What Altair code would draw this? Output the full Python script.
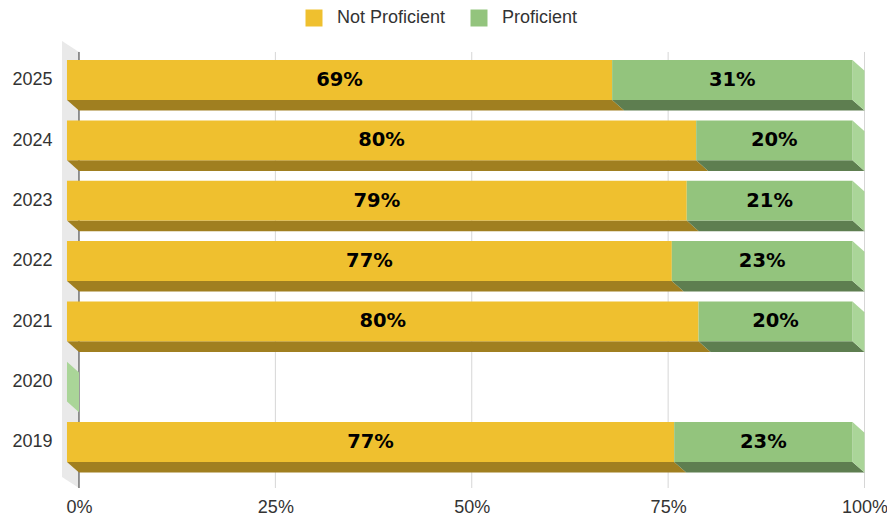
import altair as alt
import pandas as pd

# ---- data ----
years = ["2025", "2024", "2023", "2022", "2021", "2020", "2019"]
not_proficient = [69.4, 80.1, 78.9, 77.0, 80.4, 0.0, 77.3]
proficient = [30.6, 19.9, 21.1, 23.0, 19.6, 0.0, 22.7]
series = ["Not Proficient", "Proficient"]
x_ticks = [0, 25, 50, 75, 100]

# ---- styling ----
FRONT = ["#EFC02F", "#93C47D"]
BOTTOM = ["#A07F20", "#5E7E50"]
SIDE = "#AAD598"
WALL = "#E9E9E9"
FONT = "Liberation Sans"

# 3D depth (x in % units, y in row units)
DX = 1.53
DY = 0.178
H = 0.33
X_DOM = [-2.164, 100.19]
Y_DOM = [-0.646, 6.763]
Y_BACK_TOP = -0.464
Y_FRONT_BOTTOM = 6.58

values = {"Not Proficient": not_proficient, "Proficient": proficient}

front_rows, bottom_rows, side_rows, label_rows = [], [], [], []
for i, yr in enumerate(years):
    start = 0.0
    for s in series:
        v = values[s][i]
        end = start + v
        key = f"{yr}-{s}"
        front_rows.append(dict(series=s, x=start - DX, x2=end - DX, y=i - H, y2=i + H))
        if v > 0:
            bottom_rows.append(dict(key=key, series=s, yy=i + H, xa=start - DX, xb=end - DX))
            bottom_rows.append(dict(key=key, series=s, yy=i + H + DY, xa=start, xb=end))
            label_rows.append(dict(x=(start + end) / 2 - DX, y=i, label=f"{v:.0f}%"))
        if s == series[-1]:
            side_rows.append(dict(key=key, xx=end - DX, ya=i - H, yb=i + H))
            side_rows.append(dict(key=key, xx=end, ya=i - H + DY, yb=i + H + DY))
        start = end

front_df = pd.DataFrame(front_rows)
bottom_df = pd.DataFrame(bottom_rows)
side_df = pd.DataFrame(side_rows)
label_df = pd.DataFrame(label_rows)
grid_df = pd.DataFrame({"t": x_ticks})
wall_df = pd.DataFrame({"xx": [X_DOM[0], 0], "ya": [Y_DOM[0], Y_BACK_TOP], "yb": [Y_FRONT_BOTTOM, Y_DOM[1]]})

xs = alt.Scale(domain=X_DOM, nice=False, zero=False)
ys = alt.Scale(domain=Y_DOM, nice=False, zero=False, reverse=True)

year_expr = "[" + ",".join(f"'{y}'" for y in years) + "][datum.value]"
xaxis = alt.Axis(values=x_ticks, labelExpr="datum.value + '%'", grid=False, domain=False,
                 ticks=False, tickSize=0, labelPadding=10, labelFontSize=18, labelColor="#333",
                 labelFont=FONT, title=None, labelFlush=False)
yaxis = alt.Axis(values=list(range(len(years))), labelExpr=year_expr, grid=False, domain=False,
                 ticks=False, tickSize=0, labelPadding=10, labelFontSize=18, labelColor="#333",
                 labelFont=FONT, title=None, labelFlush=False)

wall = alt.Chart(wall_df).mark_area(orient="vertical", color=WALL).encode(
    x=alt.X("xx:Q", scale=xs, axis=xaxis),
    y=alt.Y("ya:Q", scale=ys, axis=yaxis, stack=None),
    y2="yb:Q",
)

grid = alt.Chart(grid_df).mark_rule(strokeWidth=1).encode(
    x=alt.X("t:Q", scale=xs, axis=xaxis),
    y=alt.Y("y0:Q", scale=ys, axis=yaxis),
    y2="y1:Q",
    color=alt.condition(alt.datum.t == 0, alt.value("#333333"), alt.value("#D6D6D6")),
).transform_calculate(y0=str(Y_BACK_TOP), y1=str(Y_DOM[1]))

bottom = alt.Chart(bottom_df).mark_area(orient="horizontal").encode(
    y=alt.Y("yy:Q", scale=ys, axis=yaxis),
    x=alt.X("xa:Q", scale=xs, axis=xaxis, stack=None),
    x2="xb:Q",
    detail="key:N",
    color=alt.Color("series:N", scale=alt.Scale(domain=series, range=BOTTOM), legend=None),
)

side = alt.Chart(side_df).mark_area(orient="vertical", color=SIDE).encode(
    x=alt.X("xx:Q", scale=xs, axis=xaxis),
    y=alt.Y("ya:Q", scale=ys, axis=yaxis, stack=None),
    y2="yb:Q",
    detail="key:N",
)

front = alt.Chart(front_df).mark_rect().encode(
    x=alt.X("x:Q", scale=xs, axis=xaxis),
    x2="x2:Q",
    y=alt.Y("y:Q", scale=ys, axis=yaxis),
    y2="y2:Q",
    fill=alt.Fill("series:N", scale=alt.Scale(domain=series, range=FRONT),
                  legend=alt.Legend(orient="none", legendX=243, legendY=-32, direction="horizontal",
                                    title=None, symbolType="square", symbolSize=289,
                                    symbolStrokeWidth=0, symbolOpacity=1, labelFontSize=18,
                                    labelFont=FONT, labelColor="#333", labelOffset=14,
                                    columnPadding=24)),
)

labels = alt.Chart(label_df).mark_text(font="DejaVu Sans", fontWeight="bold", fontSize=19.5,
                                       color="#000", baseline="middle", align="center").encode(
    x=alt.X("x:Q", scale=xs, axis=xaxis),
    y=alt.Y("y:Q", scale=ys, axis=yaxis),
    text="label:N",
)

chart = alt.layer(wall, grid, bottom, side, front, labels).resolve_scale(color="independent").properties(
    width=804, height=447,
    autosize=alt.AutoSizeParams(type="none"),
    padding={"left": 54, "top": 33, "right": 21, "bottom": 27},
).configure_view(stroke=None)

chart.save("out.html", embed_options={"renderer": "svg", "actions": False})
